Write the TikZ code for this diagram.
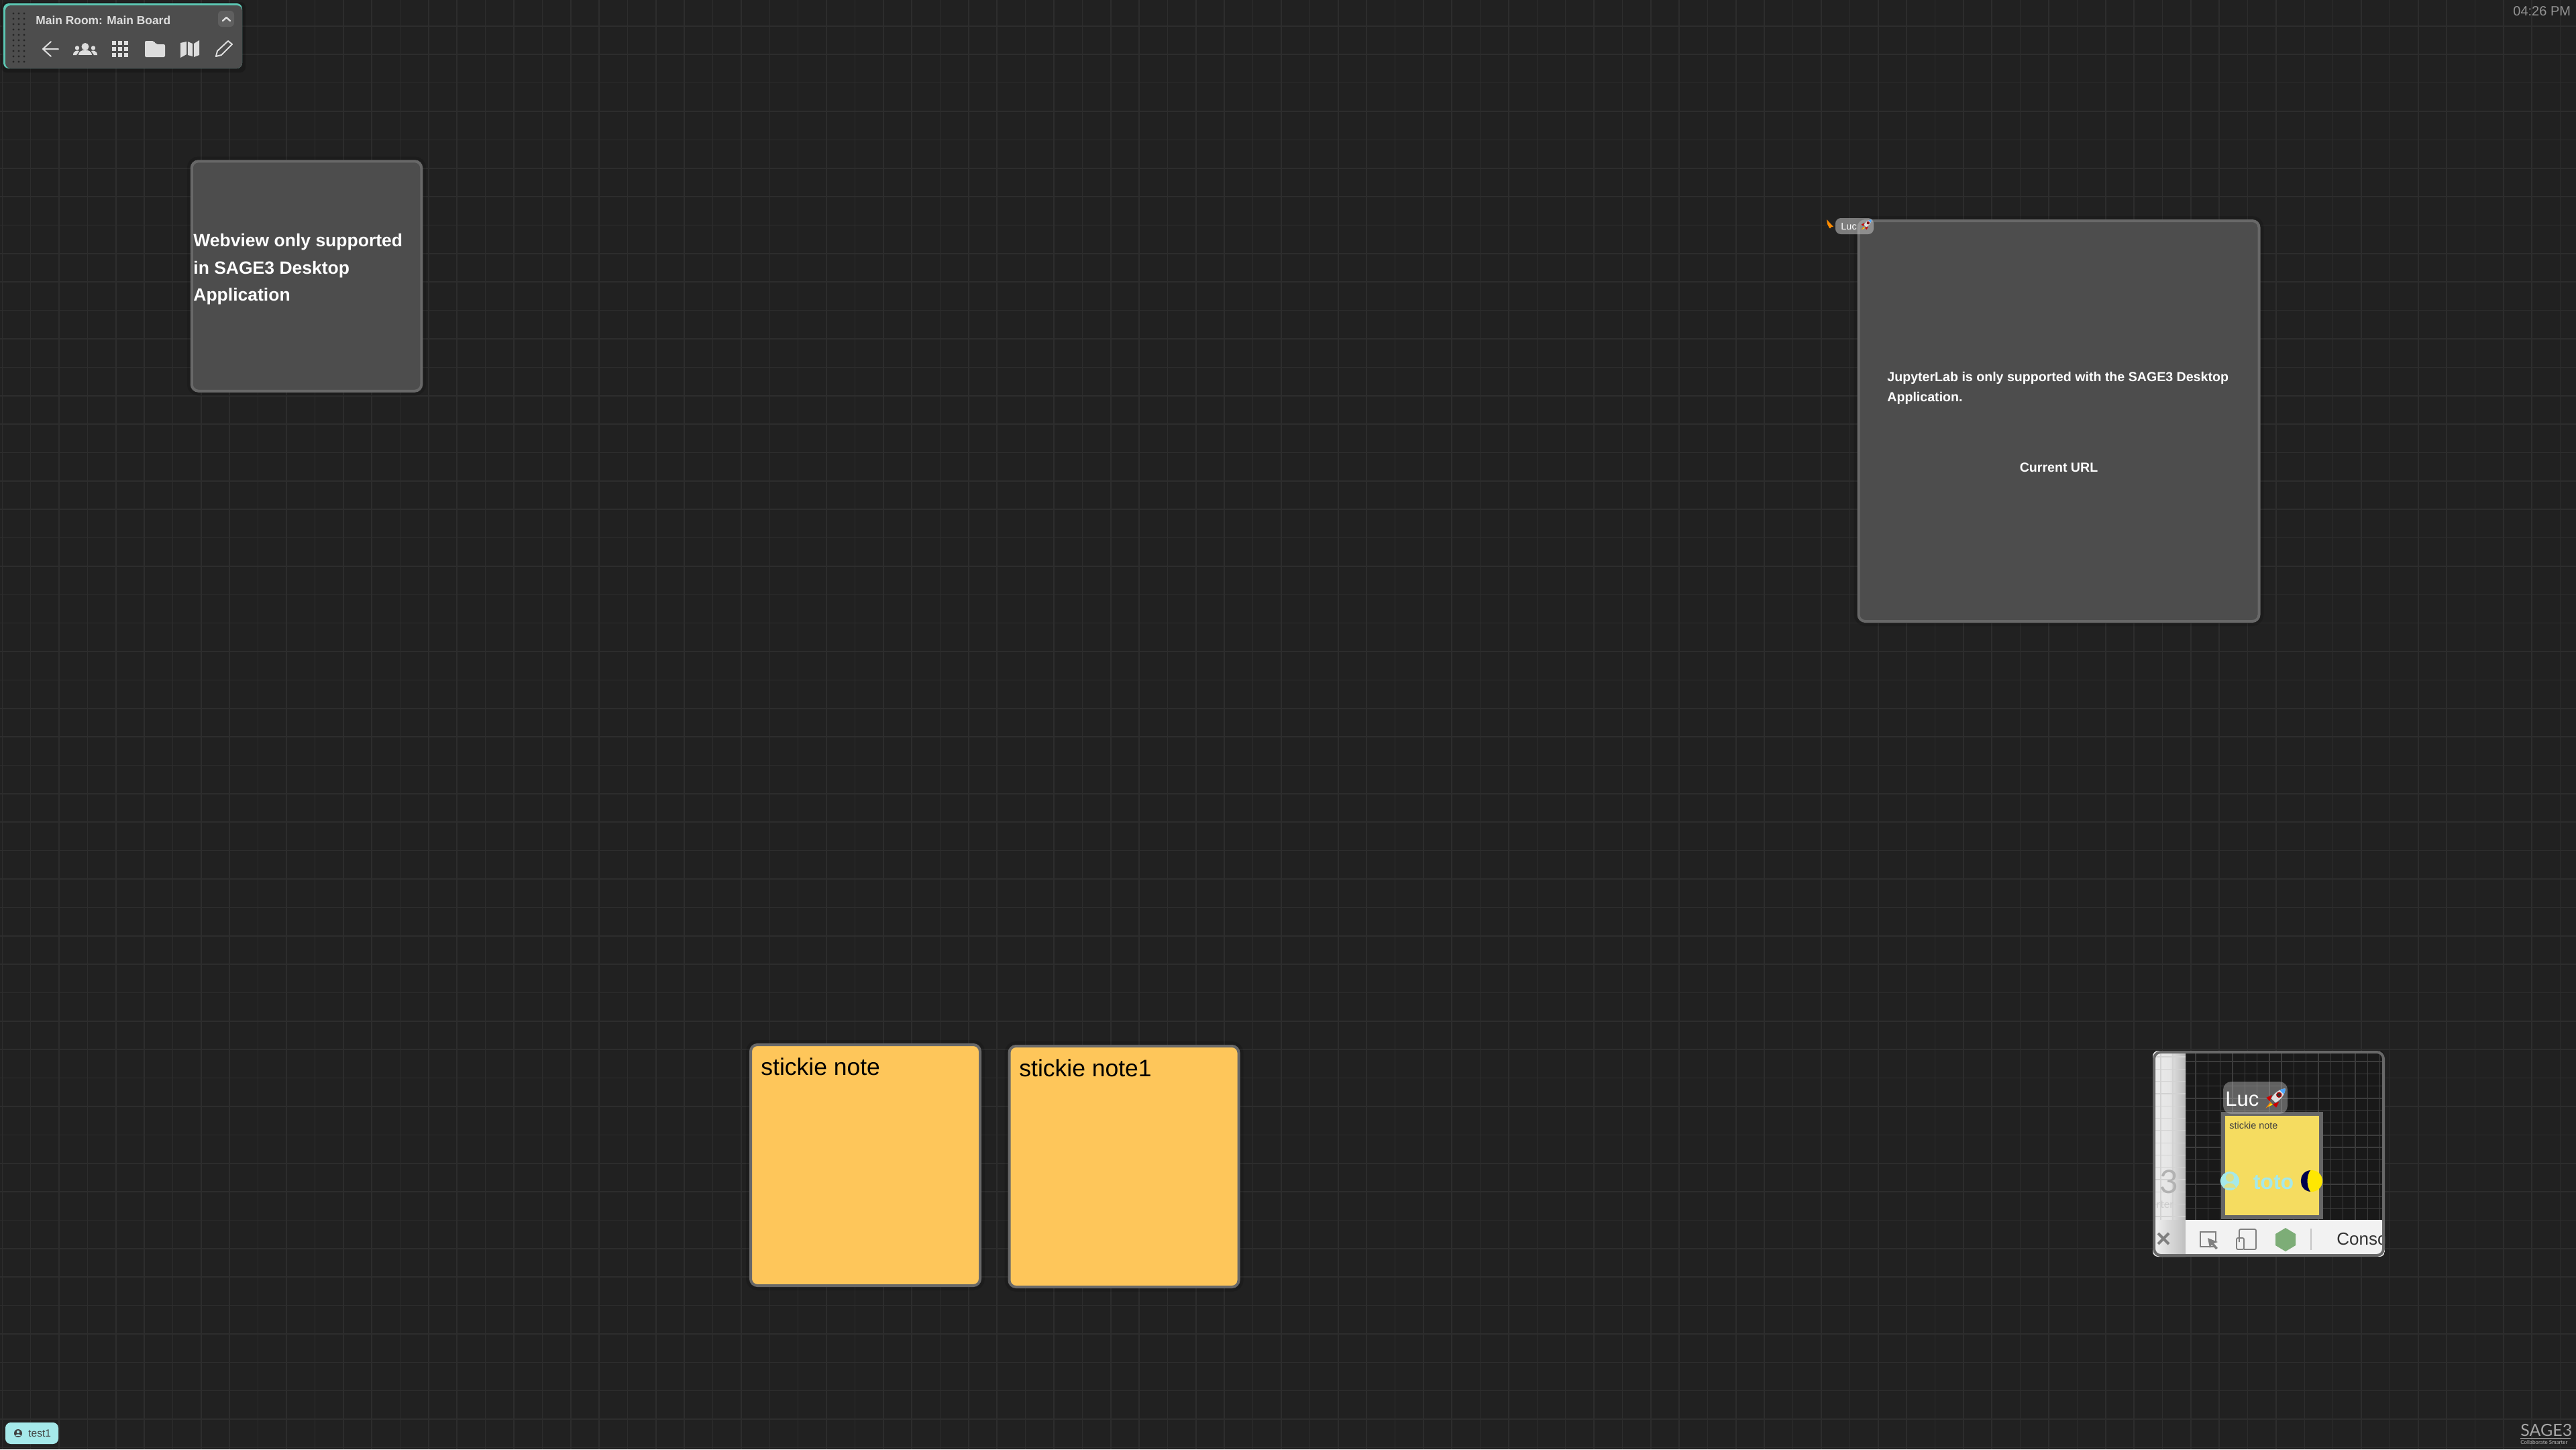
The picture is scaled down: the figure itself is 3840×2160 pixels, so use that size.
\documentclass[tikz,border=0pt]{standalone}
\usepackage{fontspec}
\setmainfont{Liberation Sans}
\newfontfamily\logofont{Lato}
\newcommand{\pxfont}[1]{\fontsize{\fpeval{#1/2}}{\fpeval{#1/2+1}}\selectfont}
\definecolor{boardbg}{HTML}{212121}
\definecolor{gridgray}{HTML}{2D2D2D}
\definecolor{panelgray}{HTML}{4D4D4D}
\definecolor{edgegray}{HTML}{686868}
\definecolor{stickyorange}{HTML}{FEC65A}
\definecolor{stickyyellow}{HTML}{F5DC60}
\definecolor{teallight}{HTML}{A5E9EA}
\definecolor{tealedge}{HTML}{5CC7B3}
\definecolor{icongray}{HTML}{DDDDDD}
\definecolor{sharegrid}{HTML}{3C3C3C}
\definecolor{nodegreen}{HTML}{7DAD77}
\tikzset{
  appbox/.style={draw=edgegray, fill=panelgray, line width=2pt, rounded corners=5pt, inner sep=0pt, preaction={draw=black, opacity=.12, line width=7pt}},
  stickybox/.style={appbox, fill=stickyorange},
  label/.style={inner sep=0pt, anchor=base west},
  gridline/.style={draw=gridgray, line width=.8pt},
  rocket/.pic={
    \fill[red!80!black] (-5,-5) -- (-13,-1) -- (-8,4) -- cycle;
    \fill[red!80!black] (5,5) -- (1,13) -- (-4,8) -- cycle;
    \fill[orange] (-7,5) -- (-14,14) -- (-5,8) -- cycle;
    \fill[yellow!90!orange] (-6,7) -- (-11,12) -- (-4,9) -- cycle;
    \fill[gray!25] (14,-14) .. controls (7,-14) and (-2,-8) .. (-6,0) -- (0,6) .. controls (8,2) and (14,-7) .. cycle;
    \fill[blue!50!cyan!70] (14,-14) .. controls (11,-14) and (8,-13) .. (6,-12) -- (12,-6) .. controls (13,-8) and (14,-11) .. cycle;
    \fill[red!70!black] (5,-5) circle (4);
    \fill[black!80] (5,-5) circle (2.5);
  }
}
\begin{document}
\begin{tikzpicture}[x=.5pt, y=-.5pt]
        \useasboundingbox (0,0) rectangle (3840,2160);
        \fill[boardbg] (0,0) rectangle (3840,2160);
        \foreach \k in {0,...,90} {
          \draw[gridline] ({3.3+42.37*\k},0) -- ({3.3+42.37*\k},2160);
        }
        \foreach \k in {0,...,50} {
          \draw[gridline] (0,{38.9+42.37*\k}) -- (3840,{38.9+42.37*\k});
        }

        % main menu
        \fill[black, opacity=.2, rounded corners=4pt] (2,3) rectangle (366,108);
        \fill[tealedge, rounded corners=4pt] (5,5) rectangle (361,102);
        \fill[panelgray, rounded corners=4pt] (8,8) -- (361,8) -- (361,102) -- (8,102) -- cycle;
        \foreach \y in {20,28,...,92} {
          \foreach \x in {20,28,36} {
            \fill[black!85] (\x,\y) circle (1.7);
          }
        }
        \node[label, text=icongray] (menutitle) at (53,36) {\pxfont{17.4}\bfseries Main Room: Main Board};
        \fill[white, opacity=.1, rounded corners=3pt] (325,16) rectangle (349,40);
        \draw[icongray, line width=1.2pt, line cap=round, line join=round] (332,31) -- (337.5,26) -- (343,31);
        \draw[icongray, line width=1pt, line cap=round, line join=round] (87,73) -- (65,73) (76,62) -- (64,73) -- (76,84);
        \fill[icongray] (127,69.5) circle (5.5) (115,71.5) circle (3.2) (139,71.5) circle (3.2);
        \fill[icongray] (117,82) .. controls (117,72) and (137,72) .. (137,82) -- cycle;
        \fill[icongray] (109,82) .. controls (109,75) and (116,75) .. (118,76) -- (114,82) -- cycle;
        \fill[icongray] (145,82) .. controls (145,75) and (138,75) .. (136,76) -- (140,82) -- cycle;
        \foreach \y in {61,70,79} {
          \foreach \x in {167,176,185} {
            \fill[icongray] (\x,\y) rectangle +(6,6);
          }
        }
        \fill[icongray, rounded corners=1pt] (216,61) -- (229,61) -- (233,66) -- (246,66) -- (246,85) -- (216,85) -- cycle;
        \fill[icongray] (269,64) -- (278,62) -- (278,81) -- (269,86) -- cycle (280,62) -- (287,65) -- (287,84) -- (280,82) -- cycle (289,65) -- (297,60) -- (297,82) -- (289,85) -- cycle;
        \draw[icongray, line width=1pt, line join=round] (322,84) -- (324,76) -- (340,61) -- (346,66) -- (330,82) -- cycle;

        % webview
        \node[appbox, minimum width=171.25pt, minimum height=171.25pt] (webview) at (457,411.5) {};
        \node[label, text=white] (webviewa) at (288,367) {\pxfont{26.5}\bfseries Webview only supported};
        \node[label, text=white] (webviewb) at (288,408) {\pxfont{26.5}\bfseries in SAGE3 Desktop};
        \node[label, text=white] (webviewc) at (288,448) {\pxfont{26.5}\bfseries Application};

        % jupyter
        \node[appbox, minimum width=298.5pt, minimum height=298.5pt] (jupyter) at (3069,627.5) {};
        \node[label, text=white] (jupytera) at (2813,568) {\pxfont{19.6}\bfseries JupyterLab is only supported with the SAGE3 Desktop};
        \node[label, text=white] (jupyterb) at (2813,598) {\pxfont{19.6}\bfseries Application.};
        \node[inner sep=0pt, anchor=base, text=white] (jupyterc) at (3069,703) {\pxfont{19.6}\bfseries Current URL};
        \fill[orange!90!yellow] (2723,327) -- (2733,338) -- (2728,338) -- (2730,340) -- (2727,340) -- (2724,334) -- cycle;
        \fill[gray!55, opacity=.6, rounded corners=4pt] (2736,325) rectangle (2793,349);
        \node[label, text=white] (cursorname) at (2744,342) {\pxfont{14.5}Luc};
        \pic[scale=.55] at (2782,335) {rocket};

        % sticky notes
        \node[stickybox, minimum width=171pt, minimum height=179.5pt] (stickyone) at (1290,1736.5) {};
        \node[label] (stickyonetext) at (1134,1602) {\pxfont{35.5}stickie note};
        \node[stickybox, minimum width=171pt, minimum height=179.5pt] (stickytwo) at (1675.5,1738.5) {};
        \node[label] (stickytwotext) at (1519,1604) {\pxfont{35.5}stickie note1};

        % screen share
        \begin{scope}
          \clip[rounded corners=4pt] (3209,1566) rectangle (3555,1873);
          \fill[black!90] (3209,1566) rectangle (3555,1873);
          \foreach \k in {0,...,15} {
            \draw[sharegrid, line width=.7pt] ({3273+18.3*\k},1566) -- ({3273+18.3*\k},1820);
          }
          \foreach \k in {0,...,13} {
            \draw[sharegrid, line width=.7pt] (3258,{1582+18.3*\k}) -- (3555,{1582+18.3*\k});
          }
          \shade[left color=gray!15, right color=gray!55, middle color=gray!20] (3209,1566) rectangle (3258,1818);
          \foreach \x in {3221,3239} {
            \draw[gray!35, line width=.6pt] (\x,1566) -- (\x,1818);
          }
          \foreach \k in {0,...,13} {
            \draw[gray!35, line width=.6pt] (3209,{1575+18.3*\k}) -- (3258,{1575+18.3*\k});
          }
          \shade[left color=gray!10, right color=gray!50] (3209,1818) rectangle (3258,1873);
          \fill[gray!10] (3258,1818) rectangle (3555,1873);
          \node[label, text=gray!60] (sharethree) at (3219,1778) {\pxfont{48}\logofont 3};
          \node[label, text=gray!40] (sharesmall) at (3214,1800) {\pxfont{16}\logofont rter};
          \draw[gray, line width=2pt] (3217,1838) -- (3233,1854) (3233,1838) -- (3217,1854);
          \draw[gray, line width=.9pt] (3302,1858) -- (3280,1858) -- (3280,1836) -- (3303,1836) -- (3303,1850);
          \fill[gray] (3291,1845) -- (3306,1851) -- (3300,1853) -- (3306,1860) -- (3303,1862) -- (3297,1855) -- (3294,1860) -- cycle;
          \draw[gray, line width=.9pt, rounded corners=1pt] (3338,1851) -- (3338,1832) -- (3363,1832) -- (3363,1862) -- (3345,1862);
          \draw[gray, line width=.9pt, rounded corners=1pt] (3334,1845) rectangle (3345,1862);
          \fill[nodegreen] (3407,1830) -- (3422,1839) -- (3422,1856) -- (3407,1865) -- (3392,1856) -- (3392,1839) -- cycle;
          \draw[gray!45, line width=.6pt] (3445,1831) -- (3445,1863);
          \node[label, text=black!80] (shareconsole) at (3483,1855) {\pxfont{26}Console};

          \fill[stickyyellow] (3311,1657) rectangle (3463,1817);
          \draw[gray!80!black, line width=3pt] (3314,1660) rectangle (3460,1814);
          \node[label, text=black!75] (sharenote) at (3323,1682) {\pxfont{14.4}stickie note};
          \fill[gray!55, opacity=.45, rounded corners=6pt] (3314,1612) rectangle (3410,1660);
          \node[label, text=white] (sharename) at (3317,1648) {\pxfont{31}Luc};
          \pic[scale=1.05] at (3392,1637) {rocket};
          \fill[teallight] (3324,1760) circle (14);
          \fill[stickyyellow!70!teallight] (3324,1755) circle (6);
          \fill[stickyyellow!70!teallight] (3315,1770) .. controls (3317,1761) and (3331,1761) .. (3333,1770) -- cycle;
          \node[inner sep=0pt, anchor=base, text=teallight] (sharetoto) at (3389,1772) {\pxfont{32}\bfseries toto};
          \fill[yellow!90!orange] (3446,1760) circle (16);
          \fill[blue!30!black] (3444,1744) .. controls (3425,1746) and (3425,1774) .. (3444,1776) .. controls (3438,1768) and (3438,1752) .. cycle;
        \end{scope}
        \node[draw=edgegray, line width=2pt, rounded corners=5pt, inner sep=0pt, minimum width=171pt, minimum height=151.5pt] (screenshare) at (3382,1719.5) {};

        % clock, user badge, logo
        \node[label, text=gray!85] (clock) at (3746,23) {\pxfont{20}04:26 PM};
        \fill[teallight, rounded corners=4pt] (8,2120) rectangle (87,2152);
        \fill[black!75] (27,2136) circle (6);
        \fill[teallight] (27,2134) circle (2.2);
        \fill[teallight] (23,2140) .. controls (24,2136.5) and (30,2136.5) .. (31,2140) -- cycle;
        \node[label, text=black!75] (username) at (42,2141) {\pxfont{15.5}test1};
        \node[label, text=gray!70] (logotext) at (3757,2140) {\pxfont{25}\logofont SAGE3};
        \draw[gray!55, line width=.5pt] (3757,2143) -- (3832,2143);
        \node[label, text=gray!60] (logosub) at (3757,2152) {\pxfont{8}\logofont Collaborate Smarter};
\end{tikzpicture}
\end{document}
